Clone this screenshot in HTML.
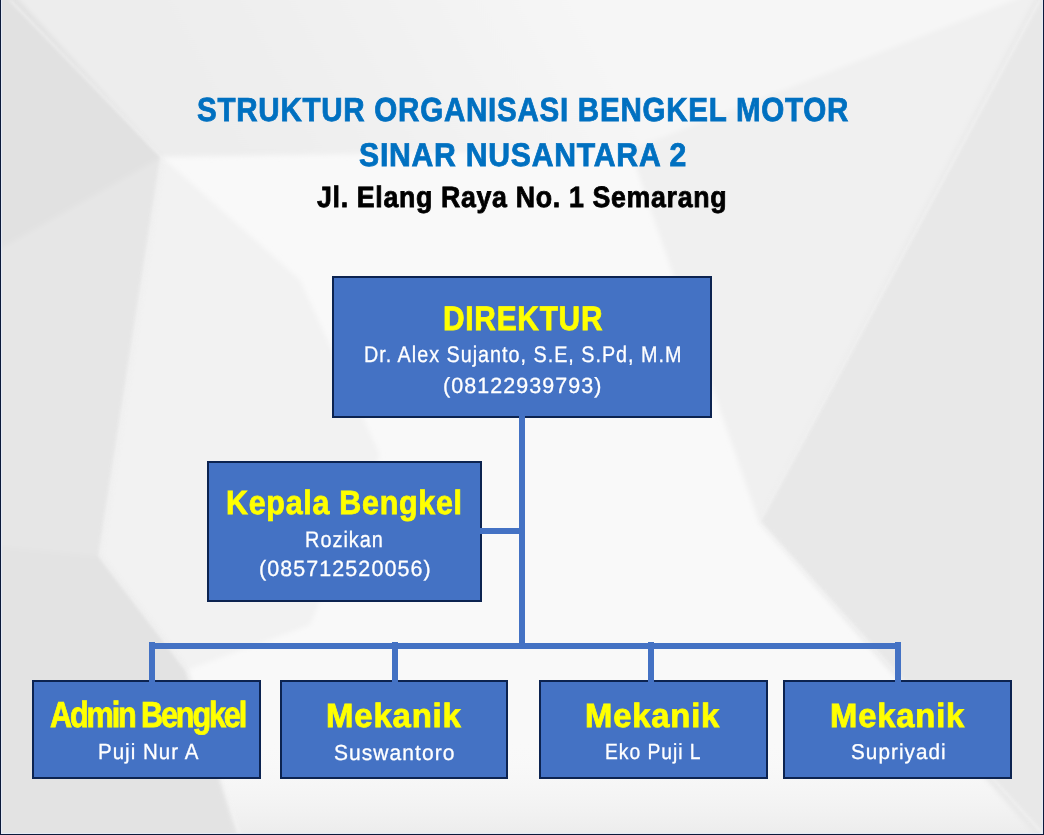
<!DOCTYPE html>
<html><head><meta charset="utf-8"><style>
html,body{margin:0;padding:0;}
body{width:1044px;height:835px;position:relative;overflow:hidden;background:#f1f1f1;font-family:"Liberation Sans",sans-serif;}
.bg{position:absolute;left:0;top:0;width:1044px;height:835px;}
.bx{position:absolute;background:#4472c4;border:2px solid #0c2350;}
.cn{position:absolute;background:#4472c4;}
.tx{position:absolute;white-space:nowrap;line-height:1;transform-origin:0 0;text-rendering:geometricPrecision;}
.fr{position:absolute;}
</style></head><body>
<svg class="bg" width="1044" height="835" viewBox="0 0 1044 835">
<defs>
<filter id="bl" x="-2%" y="-2%" width="104%" height="104%"><feGaussianBlur stdDeviation="2.5"/></filter>
<filter id="bl2" x="-5%" y="-5%" width="110%" height="110%"><feGaussianBlur stdDeviation="1.5"/></filter>
<linearGradient id="gTop" gradientUnits="userSpaceOnUse" x1="600" y1="0" x2="250" y2="180"><stop offset="0" stop-color="#f6f6f6"/><stop offset="1" stop-color="#ededed"/></linearGradient>
<linearGradient id="gBot" x1="0" y1="0" x2="0" y2="1"><stop offset="0" stop-color="#f9f9f9" stop-opacity="0"/><stop offset="1" stop-color="#ececec" stop-opacity="1"/></linearGradient>
</defs>
<rect width="1044" height="835" fill="#f9f9f9"/>
<rect x="0" y="740" width="1044" height="95" fill="url(#gBot)"/>
<g filter="url(#bl)">
<polygon points="10,-10 1040,-10 759,522 630,150 162,157" fill="url(#gTop)"/>
<polygon points="630,150 1040,-10 759,522" fill="#f0f0f0"/>
<polygon points="162,157 300,280 380,455 310,625 187,670 100,556" fill="#f2f2f2"/>
<polygon points="-10,-10 10,-10 162,157 100,556 187,670 240,845 -10,845" fill="#e6e6e6"/>
<polygon points="-10,-10 10,-10 162,157 -10,255" fill="#e1e1e1"/>
<polygon points="-10,545 100,556 187,670 240,845 -10,845" fill="#e3e3e3"/>
<polygon points="1040,-10 1054,-10 1054,845 1044,845 759,522" fill="#e8e8e8"/>
</g>
<g filter="url(#bl2)" stroke="#f6f6f6" stroke-width="2" fill="none" opacity="0.7">
<polyline points="10,0 162,157 100,556 187,670 240,835"/>
<polyline points="1040,0 759,522 1044,835"/>
</g>
</svg>

<div class="fr" style="left:1px;top:0;width:1px;height:834px;background:#e4eaf6"></div>
<div class="fr" style="left:1042px;top:0;width:1px;height:834px;background:#e4eaf6"></div>
<div class="fr" style="left:1px;top:833px;width:1042px;height:1px;background:#e4eaf6"></div>
<div class="fr" style="left:0;top:0;width:1px;height:835px;background:#0c1a3a"></div>
<div class="fr" style="left:1043px;top:0;width:1px;height:835px;background:#0c1a3a"></div>
<div class="fr" style="left:0;top:834px;width:1044px;height:1px;background:#0c1a3a"></div>

<div class="bx" style="left:332px;top:276px;width:376px;height:138px"></div>
<div class="bx" style="left:207px;top:461px;width:271px;height:137px"></div>
<div class="bx" style="left:32px;top:680px;width:225px;height:95px"></div>
<div class="bx" style="left:280px;top:680px;width:224px;height:95px"></div>
<div class="bx" style="left:539px;top:680px;width:225px;height:95px"></div>
<div class="bx" style="left:783px;top:680px;width:225px;height:95px"></div>
<div class="cn" style="left:519px;top:416px;width:6px;height:233px"></div>
<div class="cn" style="left:480px;top:528px;width:45px;height:6px"></div>
<div class="cn" style="left:149px;top:643px;width:752px;height:6px"></div>
<div class="cn" style="left:149px;top:642px;width:6px;height:40px"></div>
<div class="cn" style="left:392px;top:642px;width:6px;height:40px"></div>
<div class="cn" style="left:648px;top:642px;width:6px;height:40px"></div>
<div class="cn" style="left:895px;top:642px;width:6px;height:40px"></div>
<div class="tx" style="left:196.66px;top:94.44px;font-size:33.35px;font-weight:bold;color:#0070c0;-webkit-text-stroke:0.8px #0070c0;letter-spacing:0.025em;transform:scaleX(0.8866)">STRUKTUR ORGANISASI BENGKEL MOTOR</div><div class="tx" style="left:358.80px;top:139.43px;font-size:32.88px;font-weight:bold;color:#0070c0;-webkit-text-stroke:0.8px #0070c0;letter-spacing:0.025em;transform:scaleX(0.9178)">SINAR NUSANTARA 2</div><div class="tx" style="left:317.15px;top:183.32px;font-size:29.36px;font-weight:bold;color:#000000;-webkit-text-stroke:0.8px #000000;letter-spacing:0.025em;transform:scaleX(0.9107)">Jl. Elang Raya No. 1 Semarang</div><div class="tx" style="left:442.79px;top:301.77px;font-size:34.10px;font-weight:bold;color:#ffff00;-webkit-text-stroke:0.8px #ffff00;letter-spacing:0.025em;transform:scaleX(0.8761)">DIREKTUR</div><div class="tx" style="left:363.72px;top:343.38px;font-size:22.69px;font-weight:normal;color:#ffffff;-webkit-text-stroke:0.3px #ffffff;letter-spacing:0.05em;transform:scaleX(0.8715)">Dr. Alex Sujanto, S.E, S.Pd, M.M</div><div class="tx" style="left:442.70px;top:374.86px;font-size:22.00px;font-weight:normal;color:#ffffff;-webkit-text-stroke:0.3px #ffffff;letter-spacing:0.05em;transform:scaleX(0.9756)">(08122939793)</div><div class="tx" style="left:225.91px;top:486.66px;font-size:33.58px;font-weight:bold;color:#ffff00;-webkit-text-stroke:0.8px #ffff00;letter-spacing:0.025em;transform:scaleX(0.9045)">Kepala Bengkel</div><div class="tx" style="left:305.27px;top:528.51px;font-size:22.32px;font-weight:normal;color:#ffffff;-webkit-text-stroke:0.3px #ffffff;letter-spacing:0.05em;transform:scaleX(0.8924)">Rozikan</div><div class="tx" style="left:259.21px;top:558.38px;font-size:22.08px;font-weight:normal;color:#ffffff;-webkit-text-stroke:0.3px #ffffff;letter-spacing:0.05em;transform:scaleX(0.9729)">(085712520056)</div><div class="tx" style="left:49.52px;top:697.24px;font-size:36.24px;font-weight:bold;color:#ffff00;-webkit-text-stroke:0.8px #ffff00;letter-spacing:-0.07em;transform:scaleX(0.8455)">Admin Bengkel</div><div class="tx" style="left:97.74px;top:741.28px;font-size:21.92px;font-weight:normal;color:#ffffff;-webkit-text-stroke:0.3px #ffffff;letter-spacing:0.05em;transform:scaleX(0.9357)">Puji Nur A</div><div class="tx" style="left:326.49px;top:699.74px;font-size:33.46px;font-weight:bold;color:#ffff00;-webkit-text-stroke:0.8px #ffff00;letter-spacing:0.025em;transform:scaleX(0.9844)">Mekanik</div><div class="tx" style="left:333.93px;top:741.86px;font-size:21.69px;font-weight:normal;color:#ffffff;-webkit-text-stroke:0.3px #ffffff;letter-spacing:0.05em;transform:scaleX(0.9685)">Suswantoro</div><div class="tx" style="left:585.12px;top:699.74px;font-size:33.46px;font-weight:bold;color:#ffff00;-webkit-text-stroke:0.8px #ffff00;letter-spacing:0.025em;transform:scaleX(0.9804)">Mekanik</div><div class="tx" style="left:605.26px;top:741.28px;font-size:21.92px;font-weight:normal;color:#ffffff;-webkit-text-stroke:0.3px #ffffff;letter-spacing:0.05em;transform:scaleX(0.8793)">Eko Puji L</div><div class="tx" style="left:830.12px;top:699.74px;font-size:33.46px;font-weight:bold;color:#ffff00;-webkit-text-stroke:0.8px #ffff00;letter-spacing:0.025em;transform:scaleX(0.9804)">Mekanik</div><div class="tx" style="left:850.68px;top:742.28px;font-size:21.43px;font-weight:normal;color:#ffffff;-webkit-text-stroke:0.3px #ffffff;letter-spacing:0.05em;transform:scaleX(0.9669)">Supriyadi</div>
</body></html>
